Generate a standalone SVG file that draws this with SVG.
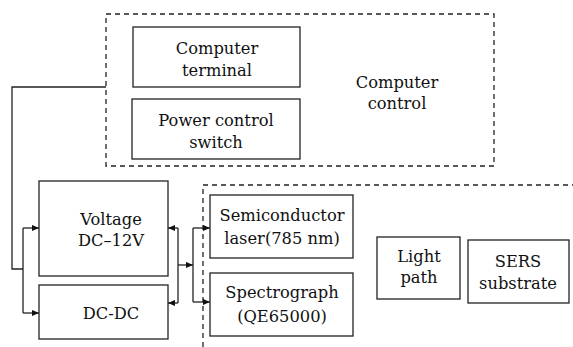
<svg xmlns="http://www.w3.org/2000/svg" width="573" height="347" viewBox="0 0 573 347">
<style>
.box{fill:none;stroke:#222;stroke-width:1.3}
.dash{fill:none;stroke:#222;stroke-width:1.3;stroke-dasharray:5 4}
.w{fill:none;stroke:#222;stroke-width:1.3}
text{font-family:'DejaVu Serif','Liberation Serif',serif;font-size:16.3px;fill:#111;text-anchor:middle}
</style>
<defs>
<marker id="ah" viewBox="0 0 8 8" refX="8" refY="4" markerWidth="7" markerHeight="7" markerUnits="userSpaceOnUse" orient="auto">
<path d="M0,0.5 L8,4 L0,7.5 Z" fill="#111"/>
</marker>
</defs>
<rect width="573" height="347" fill="#fff"/>
<g id="computer-control">
<path class="dash" d="M106,14 H494 V166 H106 Z"/>
<text x="397" y="88">Computer</text>
<text x="397" y="109">control</text>
</g>
<g id="computer-terminal">
<rect class="box" x="133" y="27" width="167" height="60"/>
<text x="217" y="54">Computer</text>
<text x="217" y="76">terminal</text>
</g>
<g id="power-switch">
<rect class="box" x="132" y="99" width="168" height="60"/>
<text x="216" y="126">Power control</text>
<text x="216" y="148">switch</text>
</g>
<g id="instrument-group">
<path class="dash" d="M203,347 V185 H573"/>
</g>
<g id="voltage">
<rect class="box" x="39" y="181" width="129" height="95"/>
<text x="111" y="225">Voltage</text>
<text x="111" y="246">DC–12V</text>
</g>
<g id="dcdc">
<rect class="box" x="39" y="285" width="129" height="54"/>
<text x="111" y="319">DC-DC</text>
</g>
<g id="laser">
<rect class="box" x="210" y="195" width="143" height="63"/>
<text x="282" y="221">Semiconductor</text>
<text x="282" y="244">laser(785 nm)</text>
</g>
<g id="spectrograph">
<rect class="box" x="210" y="273" width="143" height="63"/>
<text x="282" y="298">Spectrograph</text>
<text x="282" y="322">(QE65000)</text>
</g>
<g id="light-path">
<rect class="box" x="377" y="237" width="83" height="62"/>
<text x="419" y="262">Light</text>
<text x="419" y="283">path</text>
</g>
<g id="sers">
<rect class="box" x="468" y="240" width="101" height="63"/>
<text x="518" y="267">SERS</text>
<text x="518" y="289">substrate</text>
</g>
<g id="connectors">
<path class="w" d="M106,87 H12 V269 H23"/>
<path class="w" d="M23,228 V313"/>
<path class="w" d="M23,228 H39" marker-end="url(#ah)"/>
<path class="w" d="M23,313 H39" marker-end="url(#ah)"/>
<path class="w" d="M178,228 V303"/>
<path class="w" d="M178,228 H168" marker-end="url(#ah)"/>
<path class="w" d="M178,303 H168" marker-end="url(#ah)"/>
<path class="w" d="M178,265 H193" marker-end="url(#ah)"/>
<path class="w" d="M193,228 V302"/>
<path class="w" d="M193,228 H210" marker-end="url(#ah)"/>
<path class="w" d="M193,302 H210" marker-end="url(#ah)"/>
</g>
</svg>
